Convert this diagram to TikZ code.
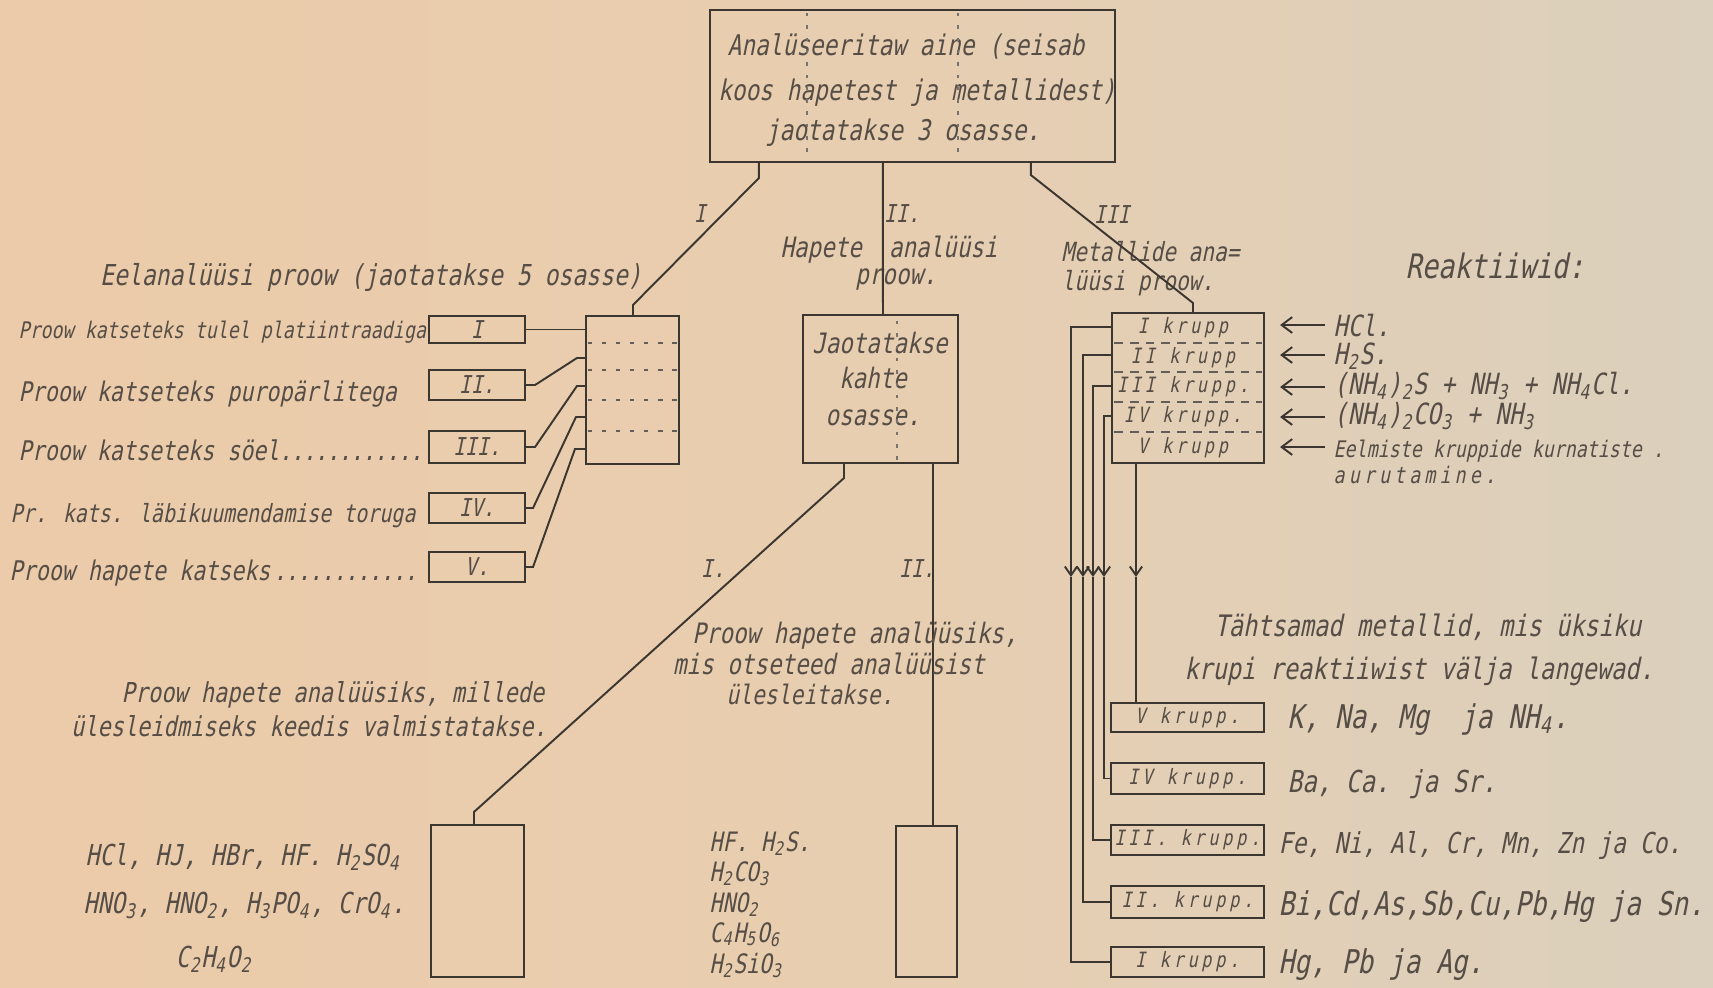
\documentclass[tikz,border=0pt]{standalone}
\usepackage{fontspec}
\usetikzlibrary{calc,arrows.meta}
\newfontfamily\hand{DejaVu Sans Mono}[FakeStretch=0.8,FakeSlant=0.2]
\newfontfamily\handsp{DejaVu Sans Mono}[FakeStretch=0.8,FakeSlant=0.2,LetterSpace=18]
\definecolor{bgL}{RGB}{235,203,169}
\definecolor{bgM}{RGB}{232,206,176}
\definecolor{bgR}{RGB}{219,208,189}
\definecolor{ink}{RGB}{60,54,48}
\definecolor{inkT}{RGB}{86,78,70}
\begin{document}
\begin{tikzpicture}[x=0.01cm,y=-0.01cm,
  bx/.style={draw=ink,line width=0.6pt,inner sep=0pt,outer sep=0pt},
  txt/.style={inner sep=0pt,text=inkT,font=\hand\fontsize{#1}{#1}\selectfont},
  stxt/.style={inner sep=0pt,text=inkT,font=\handsp\fontsize{#1}{#1}\selectfont},
  conn/.style={draw=ink,line width=0.55pt},
  fold/.style={draw=ink!70,line width=0.5pt,dash pattern=on 1pt off 2.5pt},
  divd/.style={draw=ink!80,line width=0.5pt,dash pattern=on 1.2pt off 2.8pt},
  divg/.style={draw=ink!80,line width=0.5pt,dash pattern=on 2.5pt off 2pt},
  rarr/.style={conn,-{Straight Barb[length=3pt,width=4.5pt]}},
  darr/.style={conn,-{Straight Barb[length=2.5pt,width=3.5pt]}}]
\useasboundingbox (0,0) rectangle (1713,987);
\shade[left color=bgL,right color=bgR,middle color=bgM] (0,0) rectangle (1713,987);

% ---------- main box ----------
\node[bx,minimum width=4.05cm,minimum height=1.52cm] (main) at (912.5,86) {};
\node[txt=8.1,anchor=base] (m1) at (906,55) {Analüseeritaw aine (seisab};
\node[txt=8.1,anchor=base] (m2) at (917,100) {koos hapetest ja metallidest)};
\node[txt=8.1,anchor=base] (m3) at (903,140) {jaotatakse 3 osasse.};
\draw[fold] ($(main.north west)+(97,3)$) -- ($(main.south west)+(97,-3)$);
\draw[fold] ($(main.north west)+(248,3)$) -- ($(main.south west)+(248,-3)$);

\node[txt=7,anchor=base] (lI) at (700,222) {I};
\node[txt=7,anchor=base] (lII) at (902,222) {II.};
\node[txt=7,anchor=base] (lIII) at (1112,223) {III};

% ---------- left: preliminary analysis ----------
\node[txt=8.2,anchor=base] (eel) at (371,285) {Eelanalüüsi proow (jaotatakse 5 osasse)};
\node[bx,minimum width=0.93cm,minimum height=1.48cm] (five) at (632.5,390) {};
\foreach \yy in {27,54,84,115}
  \draw[divd] ($(five.north west)+(2,\yy)$) -- ($(five.north east)+(-2,\yy)$);

\node[bx,txt=7,minimum width=0.96cm,minimum height=0.27cm] (b1) at (477,329.5) {I};
\node[bx,txt=7,minimum width=0.96cm,minimum height=0.30cm] (b2) at (477,385) {II.};
\node[bx,txt=7,minimum width=0.96cm,minimum height=0.32cm] (b3) at (477,447) {III.};
\node[bx,txt=7,minimum width=0.96cm,minimum height=0.30cm] (b4) at (477,508) {IV.};
\node[bx,txt=7,minimum width=0.96cm,minimum height=0.30cm] (b5) at (477,567) {V.};

\node[txt=6.5,anchor=base west] (p1) at (18,338) {Proow katseteks tulel platiintraadiga};
\node[txt=7.7,anchor=base west] (p2) at (18,401) {Proow katseteks puropärlitega};
\node[txt=7.7,anchor=base west] (p3) at (18,460) {\makebox[4.04cm][l]{Proow katseteks söel\dotfill}};
\node[txt=7.1,anchor=base west] (p4) at (10,522) {Pr. kats. läbikuumendamise toruga};
\node[txt=7.7,anchor=base west] (p5) at (9,580) {\makebox[4.11cm][l]{Proow hapete katseks\dotfill}};

\draw[conn] (b1.east) -- (b1.east -| five.west);
\draw[conn] (b2.east) -- ++(10,0) -- ($(five.north west)+(-9,42)$) -- ($(five.north west)+(0,42)$);
\draw[conn] (b3.east) -- ++(10,0) -- ($(five.north west)+(-9,70)$) -- ($(five.north west)+(0,70)$);
\draw[conn] (b4.east) -- ++(8,0) -- ($(five.north west)+(-10,101)$) -- ($(five.north west)+(0,101)$);
\draw[conn] (b5.east) -- ++(8,0) -- ($(five.north west)+(-11,133)$) -- ($(five.north west)+(0,133)$);

\draw[conn] ($(main.south west)+(49,0)$) -- ++(0,16) -- ($(five.north west)+(47,-11)$) -- ($(five.north west)+(47,0)$);

% ---------- middle: acids ----------
\node[txt=8,anchor=base] (hap) at (889,257) {Hapete\ \ analüüsi};
\node[txt=8,anchor=base] (hap2) at (896,284) {proow.};
\node[bx,minimum width=1.55cm,minimum height=1.48cm] (jao) at (880.5,389) {};
\node[txt=8,anchor=base] (j1) at (880,353) {Jaotatakse};
\node[txt=8,anchor=base] (j2) at (873,388) {kahte};
\node[txt=8,anchor=base] (j3) at (873,425) {osasse.};
\draw[fold] ($(jao.north west)+(94,6)$) -- ($(jao.south west)+(94,-2)$);
\draw[conn] ($(main.south west)+(173,0)$) -- ($(jao.north west)+(80,0)$);

\node[bx,minimum width=0.93cm,minimum height=1.52cm] (acidA) at (477.5,901) {};
\node[bx,minimum width=0.61cm,minimum height=1.51cm] (acidB) at (926.5,901.5) {};
\draw[conn] ($(jao.south west)+(41,0)$) -- ++(0,15) -- ($(acidA.north west)+(43,-13)$) -- ($(acidA.north west)+(43,0)$);
\draw[conn] ($(jao.south west)+(130,0)$) -- ($(acidB.north west)+(37,0)$);
\node[txt=7,anchor=base] (sI) at (713,577) {I.};
\node[txt=7,anchor=base] (sII) at (917,577) {II.};

\node[txt=8,anchor=base] (mp1) at (855,643) {Proow hapete analüüsiks,};
\node[txt=8,anchor=base] (mp2) at (829,674) {mis otseteed analüüsist};
\node[txt=7.6,anchor=base] (mp3) at (810,704) {ülesleitakse.};

\node[txt=7.8,anchor=base] (lp1) at (333,702) {Proow hapete analüüsiks, millede};
\node[txt=7.8,anchor=base] (lp2) at (309,736) {ülesleidmiseks keedis valmistatakse.};

\node[txt=8.2,anchor=base west] (fa1) at (85,865) {HCl, HJ, HBr, HF. H\textsubscript{2}SO\textsubscript{4}};
\node[txt=8.2,anchor=base west] (fa2) at (83,913) {HNO\textsubscript{3}, HNO\textsubscript{2}, H\textsubscript{3}PO\textsubscript{4}, CrO\textsubscript{4}.};
\node[txt=8.2,anchor=base] (fa3) at (214,967) {C\textsubscript{2}H\textsubscript{4}O\textsubscript{2}};

\node[txt=7.6,anchor=base west] (fb1) at (709,851) {HF. H\textsubscript{2}S.};
\node[txt=7.6,anchor=base west] (fb2) at (709,881) {H\textsubscript{2}CO\textsubscript{3}};
\node[txt=7.6,anchor=base west] (fb3) at (709,912) {HNO\textsubscript{2}};
\node[txt=7.6,anchor=base west] (fb4) at (709,942) {C\textsubscript{4}H\textsubscript{5}O\textsubscript{6}};
\node[txt=7.6,anchor=base west] (fb5) at (709,973) {H\textsubscript{2}SiO\textsubscript{3}};

% ---------- right: metals ----------
\node[txt=7.5,anchor=base west] (met1) at (1061,261) {Metallide ana=};
\node[txt=7.5,anchor=base west] (met2) at (1061,290) {lüüsi proow.};
\node[bx,minimum width=1.52cm,minimum height=1.50cm] (grp) at (1188,388) {};
\foreach \yy in {30,59,89,119}
  \draw[divg] ($(grp.north west)+(2,\yy)$) -- ($(grp.north east)+(-2,\yy)$);
\node[stxt=6] (gl1) at (1183,328) {I krupp};
\node[stxt=6] (gl2) at (1183,357.5) {II krupp};
\node[stxt=6] (gl3) at (1183,387) {III krupp.};
\node[stxt=6] (gl4) at (1183,417) {IV krupp.};
\node[stxt=6] (gl5) at (1183,447.5) {V krupp};
\draw[conn] ($(main.south west)+(321,0)$) -- ++(0,13) -- ($(grp.north west)+(81,-10)$) -- ($(grp.north west)+(81,0)$);

\node[txt=9.6,anchor=base] (rea) at (1495,278) {Reaktiiwid:};
\node[txt=8.3,anchor=base west] (r1) at (1333,336) {HCl.};
\node[txt=8.3,anchor=base west] (r2) at (1333,364) {H\textsubscript{2}S.};
\node[txt=8.3,anchor=base west] (r3) at (1333,394) {(NH\textsubscript{4})\textsubscript{2}S + NH\textsubscript{3} + NH\textsubscript{4}Cl.};
\node[txt=8.3,anchor=base west] (r4) at (1333,424) {(NH\textsubscript{4})\textsubscript{2}CO\textsubscript{3} + NH\textsubscript{3}};
\node[txt=6.5,anchor=base west] (r5) at (1333,457) {Eelmiste kruppide kurnatiste .};
\node[stxt=6.5,anchor=base west] (r5b) at (1333,483) {aurutamine.};
\draw[rarr] ($(r1.base west)+(-8,-11)$) -- ($(grp.east |- r1.base west)+(16,-11)$);
\draw[rarr] ($(r2.base west)+(-8,-9)$) -- ($(grp.east |- r2.base west)+(16,-9)$);
\draw[rarr] ($(r3.base west)+(-8,-7)$) -- ($(grp.east |- r3.base west)+(16,-7)$);
\draw[rarr] ($(r4.base west)+(-8,-7)$) -- ($(grp.east |- r4.base west)+(16,-7)$);
\draw[rarr] ($(r5.base west)+(-8,-10)$) -- ($(grp.east |- r5.base west)+(16,-10)$);

\node[bx,stxt=6,minimum width=1.53cm,minimum height=0.29cm] (g5) at (1187.5,717.5) {V krupp.};
\node[bx,stxt=6,minimum width=1.53cm,minimum height=0.31cm] (g4) at (1187.5,778.5) {IV krupp.};
\node[bx,stxt=6,minimum width=1.53cm,minimum height=0.30cm] (g3) at (1187.5,840) {III. krupp.};
\node[bx,stxt=6,minimum width=1.53cm,minimum height=0.32cm] (g2) at (1187.5,902) {II. krupp.};
\node[bx,stxt=6,minimum width=1.53cm,minimum height=0.30cm] (g1) at (1187.5,962) {I krupp.};

\draw[darr] ($(grp.north west)+(0,14)$) -| ($(grp.north west)+(-41,264)$);
\draw[conn] ($(grp.north west)+(-41,264)$) |- (g1.west);
\draw[darr] ($(grp.north west)+(0,42)$) -| ($(grp.north west)+(-29,264)$);
\draw[conn] ($(grp.north west)+(-29,264)$) |- (g2.west);
\draw[darr] ($(grp.north west)+(0,73)$) -| ($(grp.north west)+(-19,264)$);
\draw[conn] ($(grp.north west)+(-19,264)$) |- (g3.west);
\draw[darr] ($(grp.north west)+(0,103)$) -| ($(grp.north west)+(-8,264)$);
\draw[conn] ($(grp.north west)+(-8,264)$) |- (g4.west);
\draw[darr] ($(grp.south west)+(24,0)$) -- ($(grp.north west)+(24,264)$);
\draw[conn] ($(grp.north west)+(24,264)$) -- ($(g5.north west)+(25,0)$);

\node[txt=8.4,anchor=base] (t1) at (1428,636) {Tähtsamad metallid, mis üksiku};
\node[txt=8.4,anchor=base] (t2) at (1419,679) {krupi reaktiiwist välja langewad.};

\node[txt=9.3,anchor=base west] (k5) at (1287,728) {K, Na, Mg\ \ ja NH\textsubscript{4}.};
\node[txt=8.6,anchor=base west] (k4) at (1287,792) {Ba, Ca. ja Sr.};
\node[txt=8.2,anchor=base west] (k3) at (1278,853) {Fe, Ni, Al, Cr, Mn, Zn ja Co.};
\node[txt=9.3,anchor=base west] (k2) at (1278,915) {Bi,Cd,As,Sb,Cu,Pb,Hg ja Sn.};
\node[txt=9.3,anchor=base west] (k1) at (1278,973) {Hg, Pb ja Ag.};
\end{tikzpicture}
\end{document}
